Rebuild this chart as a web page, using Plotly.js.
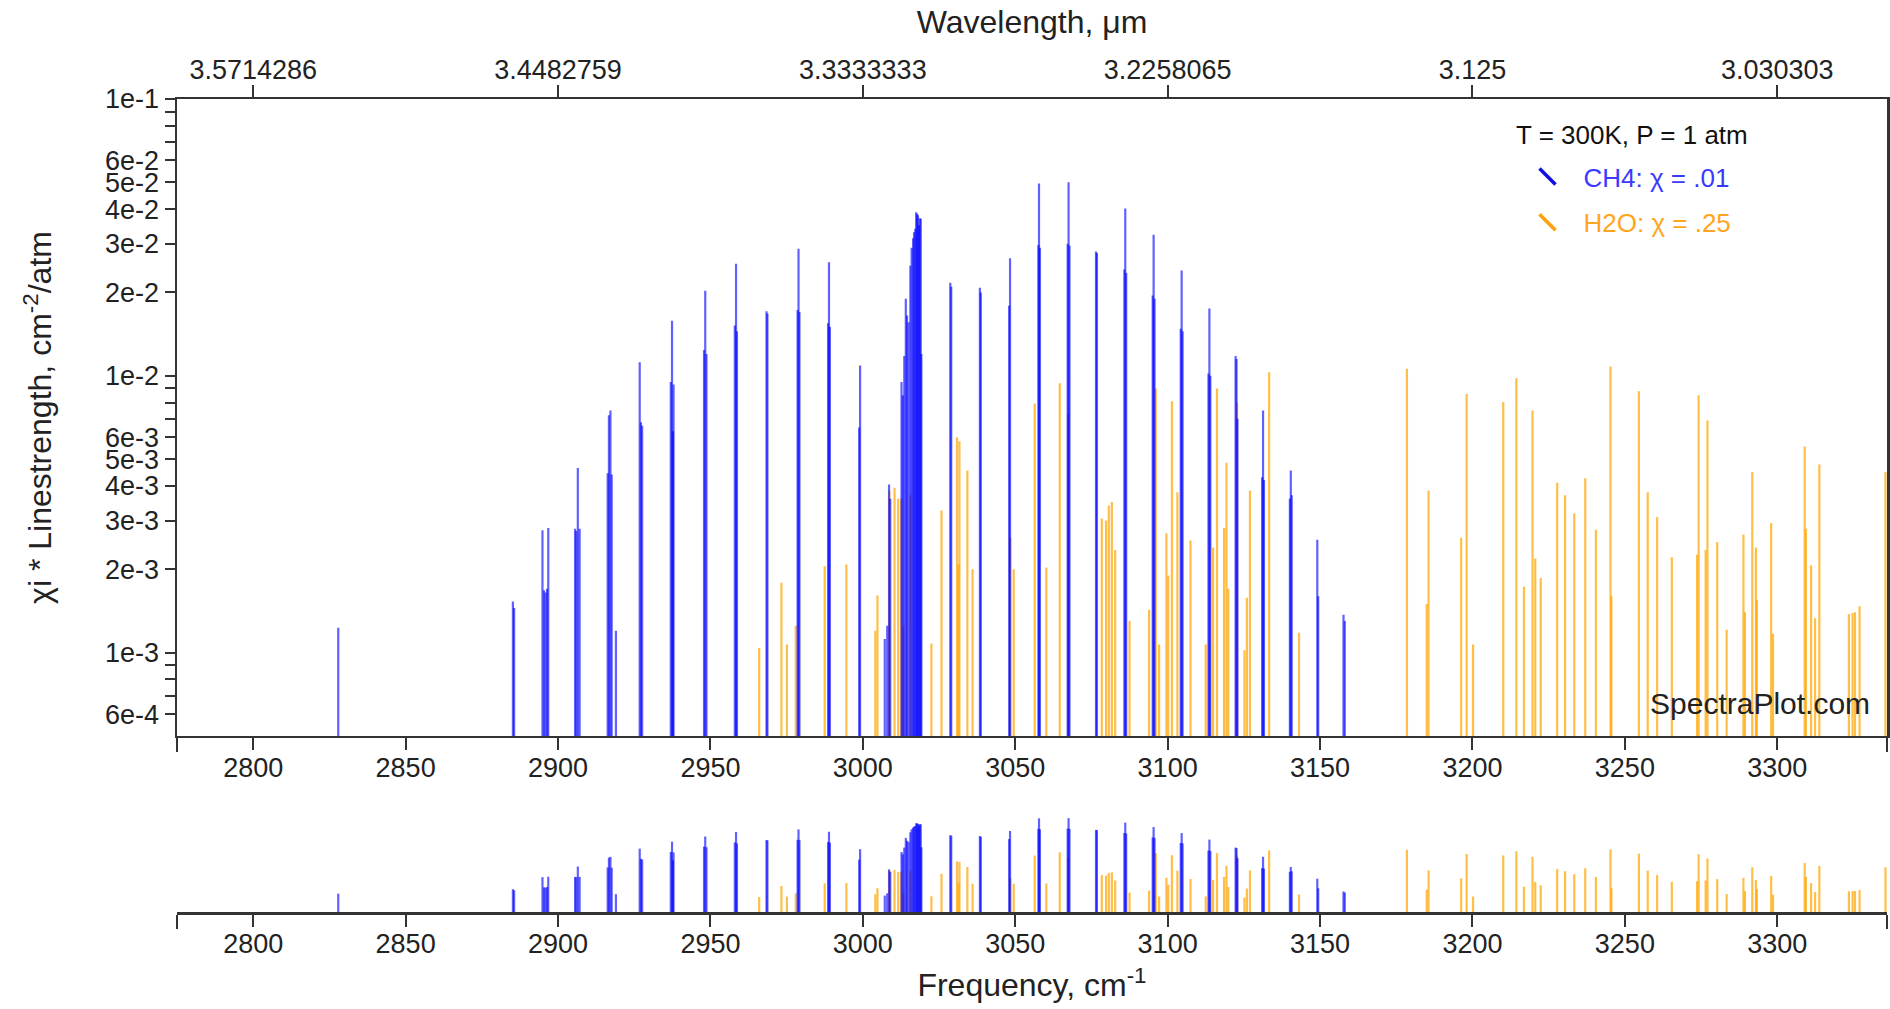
<!DOCTYPE html>
<html>
<head>
<meta charset="utf-8">
<script src="https://cdn.plot.ly/plotly-3.0.1.min.js"></script>
<style>
  html, body { margin: 0; padding: 0; background: #fff; }
  #chart { width: 1890px; height: 1009px; }
</style>
</head>
<body>
<div id="chart"></div>
<script>
// ---- CH4 stick spectrum (frequency cm-1, chi*linestrength cm-2/atm) ----
const ch4Freq = [
  2827.9,
  2885.2, 2885.6,
  2894.9, 2895.4, 2895.9, 2896.4, 2896.8,
  2905.6, 2906.0, 2906.5, 2907.1,
  2916.3, 2916.7, 2917.2, 2917.6, 2919.0,
  2926.8, 2927.2, 2927.6,
  2937.0, 2937.4, 2937.7, 2937.9,
  2947.9, 2948.3, 2948.7,
  2958.0, 2958.4, 2958.7,
  2968.4, 2968.7,
  2978.6, 2978.9, 2979.2,
  2988.6, 2988.9, 2989.2,
  2998.8, 2999.1,
  3007.2, 3008.0, 3008.6, 3009.0,
  3012.7, 3013.1, 3013.6, 3014.1, 3014.5, 3015.0, 3015.6, 3016.0, 3016.5, 3016.8,
  3017.2, 3017.5, 3017.8, 3018.1, 3018.4, 3018.7, 3019.0, 3019.2,
  3028.7, 3029.0,
  3038.4, 3038.7,
  3048.0, 3048.3,
  3057.6, 3057.8, 3058.1,
  3067.2, 3067.5, 3067.8,
  3076.5, 3076.8,
  3085.8, 3086.1, 3086.4,
  3095.1, 3095.4, 3095.7,
  3104.3, 3104.6, 3104.9,
  3113.4, 3113.7, 3114.0,
  3122.3, 3122.6, 3122.9,
  3131.0, 3131.3, 3131.6,
  3140.1, 3140.4, 3140.7,
  3149.1, 3149.4,
  3157.7, 3158.1
];
const ch4Strength = [
  1.23e-3,
  1.53e-3, 1.45e-3,
  2.77e-3, 1.68e-3, 1.65e-3, 1.7e-3, 2.82e-3,
  2.8e-3, 2.75e-3, 4.65e-3, 2.8e-3,
  4.45e-3, 7.2e-3, 7.5e-3, 4.4e-3, 1.2e-3,
  1.12e-2, 6.8e-3, 6.6e-3,
  9.5e-3, 1.58e-2, 6.3e-3, 9.3e-3,
  1.24e-2, 2.03e-2, 1.2e-2,
  1.52e-2, 2.54e-2, 1.45e-2,
  1.71e-2, 1.68e-2,
  1.73e-2, 2.88e-2, 1.7e-2,
  1.55e-2, 2.57e-2, 1.5e-2,
  6.5e-3, 1.09e-2,
  1.12e-3, 1.25e-3, 4.05e-3, 3.6e-3,
  9.5e-3, 8.5e-3, 1.18e-2, 1.9e-2, 1.65e-2, 1.56e-2, 2.5e-2, 2.9e-2, 3.14e-2, 3.3e-2,
  3.4e-2, 3.9e-2, 3.85e-2, 3.8e-2, 3.5e-2, 3.7e-2, 3.7e-2, 1.2e-2,
  2.17e-2, 2.1e-2,
  2.08e-2, 2.0e-2,
  1.79e-2, 2.66e-2,
  2.97e-2, 4.95e-2, 2.9e-2,
  3.0e-2, 5.0e-2, 2.95e-2,
  2.81e-2, 2.78e-2,
  2.42e-2, 4.02e-2, 2.35e-2,
  1.95e-2, 3.23e-2, 1.9e-2,
  1.48e-2, 2.4e-2, 1.45e-2,
  1.02e-2, 1.75e-2, 1.0e-2,
  1.18e-2, 1.15e-2, 7.0e-3,
  4.3e-3, 7.5e-3, 4.2e-3,
  3.6e-3, 4.55e-3, 3.7e-3,
  2.56e-3, 1.6e-3,
  1.37e-3, 1.3e-3
];

// ---- H2O stick spectrum ----
const h2oFreq = [
  2966.0, 2973.3, 2975.1, 2978.0, 2987.5, 2994.6,
  3004.1, 3004.8, 3008.7, 3010.4, 3011.6, 3012.6, 3013.3, 3015.6,
  3022.5, 3025.8, 3030.9, 3031.4, 3031.7, 3034.3, 3036.0,
  3048.4, 3049.5, 3056.4, 3060.2, 3064.6, 3067.4,
  3078.4, 3079.8, 3080.7, 3081.7, 3082.8, 3087.5,
  3093.9, 3096.1, 3097.2, 3099.6, 3100.2, 3101.4, 3103.2, 3107.5,
  3112.5, 3114.9, 3116.2, 3118.5, 3119.3, 3119.9, 3122.8, 3125.2, 3126.0, 3127.0,
  3133.3, 3143.1,
  3178.5, 3185.0, 3185.6, 3196.3, 3198.1, 3200.2,
  3210.1, 3214.4, 3216.9, 3219.7, 3220.6, 3222.4,
  3227.8, 3230.4, 3233.4, 3237.0, 3240.5, 3245.3, 3245.6,
  3254.6, 3257.5, 3260.6, 3265.4,
  3273.7, 3274.2, 3276.5, 3277.1, 3280.3, 3283.4,
  3288.9, 3289.4, 3291.8, 3293.0, 3293.3, 3298.0, 3298.6,
  3309.0, 3309.4, 3311.1, 3312.4, 3313.8,
  3323.5, 3324.7, 3325.5, 3327.0, 3335.5
];
const h2oStrength = [
  1.04e-3, 1.79e-3, 1.07e-3, 1.25e-3, 2.05e-3, 2.08e-3,
  1.2e-3, 1.61e-3, 3.85e-3, 3.94e-3, 3.6e-3, 3.6e-3, 1.25e-3, 3.7e-3,
  1.08e-3, 3.26e-3, 6.0e-3, 2.08e-3, 5.8e-3, 4.55e-3, 2.0e-3,
  2.6e-3, 2.0e-3, 7.95e-3, 2.03e-3, 9.4e-3, 7.3e-3,
  3.05e-3, 3.0e-3, 3.4e-3, 3.5e-3, 2.35e-3, 1.3e-3,
  1.43e-3, 9.0e-3, 1.07e-3, 2.7e-3, 1.9e-3, 8.1e-3, 3.8e-3, 2.54e-3,
  1.07e-3, 2.4e-3, 9.0e-3, 2.82e-3, 4.85e-3, 1.7e-3, 8.0e-3, 1.02e-3, 1.58e-3, 3.85e-3,
  1.03e-2, 1.18e-3,
  1.06e-2, 1.5e-3, 3.85e-3, 2.6e-3, 8.6e-3, 1.07e-3,
  8.04e-3, 9.8e-3, 1.73e-3, 7.5e-3, 2.19e-3, 1.86e-3,
  4.11e-3, 3.7e-3, 3.18e-3, 4.27e-3, 2.78e-3, 1.08e-2, 1.6e-3,
  8.8e-3, 3.8e-3, 3.09e-3, 2.21e-3,
  2.26e-3, 8.5e-3, 2.35e-3, 6.9e-3, 2.51e-3, 1.21e-3,
  2.67e-3, 1.4e-3, 4.49e-3, 2.4e-3, 1.55e-3, 2.94e-3, 1.17e-3,
  5.56e-3, 2.8e-3, 2.07e-3, 1.33e-3, 4.78e-3,
  1.38e-3, 1.39e-3, 1.4e-3, 1.47e-3, 4.49e-3
];

// ---- axis tick labels ----
const freqRange = [2775, 3336];
const yTickVals = [1e-1, 6e-2, 5e-2, 4e-2, 3e-2, 2e-2, 1e-2, 6e-3, 5e-3, 4e-3, 3e-3, 2e-3, 1e-3, 6e-4];
const yTickText = ['1e-1', '6e-2', '5e-2', '4e-2', '3e-2', '2e-2', '1e-2', '6e-3', '5e-3', '4e-3', '3e-3', '2e-3', '1e-3', '6e-4'];
const yMinorVals = [9e-2, 8e-2, 7e-2, 9e-3, 8e-3, 7e-3, 9e-4, 8e-4, 7e-4];
const wlTickFreq = [2800, 2900, 3000, 3100, 3200, 3300];
const wlTickText = ['3.5714286', '3.4482759', '3.3333333', '3.2258065', '3.125', '3.030303'];

const ch4Color = 'rgba(0,0,255,0.62)';
const h2oColor = 'rgba(255,165,0,0.72)';
const floorVal = 1e-5;

function sticks(freq, strength, color, xa, ya) {
  return freq.map((f, i) => ({
    type: 'scatter', mode: 'lines',
    x: [f, f], y: [floorVal, strength[i]],
    line: { color: color, width: 2.2 },
    xaxis: xa, yaxis: ya,
    hoverinfo: 'skip', showlegend: false
  }));
}

const traces = [].concat(
  sticks(h2oFreq, h2oStrength, h2oColor, 'x', 'y'),
  sticks(ch4Freq, ch4Strength, ch4Color, 'x', 'y'),
  sticks(h2oFreq, h2oStrength, h2oColor, 'x2', 'y2'),
  sticks(ch4Freq, ch4Strength, ch4Color, 'x2', 'y2')
);

// legend entries (placed on the top wavelength axis so that axis is drawn)
traces.push({
  type: 'scatter', mode: 'markers', x: [null], y: [null],
  name: '<span style="color:#3a3aff">CH4: χ = .01</span>',
  marker: { symbol: 'line-nw', size: 16, line: { width: 3.5, color: '#1010e0' }, color: '#1010e0' },
  legendgroup: 'ch4', xaxis: 'x3', yaxis: 'y'
});
traces.push({
  type: 'scatter', mode: 'markers', x: [null], y: [null],
  name: '<span style="color:#ffa520">H2O: χ = .25</span>',
  marker: { symbol: 'line-nw', size: 16, line: { width: 3.5, color: '#ffa010' }, color: '#ffa010' },
  legendgroup: 'h2o', xaxis: 'x3', yaxis: 'y'
});

const axisColor = '#333';
const fontFam = '"Liberation Sans", Arial, sans-serif';
const logRange = [Math.log10(5e-4), -1];

const layout = {
  width: 1890, height: 1009,
  margin: { l: 177, r: 3, t: 99, b: 97, pad: 0 },
  paper_bgcolor: '#fff', plot_bgcolor: '#fff',
  font: { family: fontFam, size: 27, color: '#222' },
  showlegend: true,
  legend: {
    x: 0.7804, y: 0.9335, xanchor: 'left', yanchor: 'top',
    bgcolor: 'rgba(0,0,0,0)', borderwidth: 0,
    font: { size: 26, family: fontFam },
    itemwidth: 62, tracegroupgap: 9
  },
  xaxis: {
    domain: [0, 1], anchor: 'y', range: freqRange,
    tick0: 0, dtick: 50, ticks: 'outside', ticklen: 12, tickwidth: 2, tickcolor: axisColor,
    ticklabelstandoff: -6,
    showline: true, linecolor: axisColor, linewidth: 2.5, mirror: false,
    showgrid: false, zeroline: false, automargin: false,
    minor: { tickvals: [2775.05, 3335.95], ticks: 'outside', ticklen: 14, tickwidth: 2, tickcolor: axisColor, showgrid: false }
  },
  xaxis3: {
    overlaying: 'x', side: 'top', anchor: 'y', range: freqRange,
    tickmode: 'array', tickvals: wlTickFreq, ticktext: wlTickText,
    ticks: 'outside', ticklen: 12, tickwidth: 2, tickcolor: axisColor,
    ticklabelstandoff: -5,
    showline: true, linecolor: axisColor, linewidth: 2.5,
    showgrid: false, zeroline: false, automargin: false,
    title: { text: 'Wavelength, μm', font: { size: 32 }, standoff: 12 }
  },
  yaxis: {
    domain: [0.2165, 1], anchor: 'x', type: 'log', range: logRange,
    tickmode: 'array', tickvals: yTickVals, ticktext: yTickText,
    ticks: 'outside', ticklen: 10, tickwidth: 2, tickcolor: axisColor,
    minor: { tickvals: yMinorVals, ticks: 'outside', ticklen: 10, tickwidth: 2, tickcolor: axisColor, showgrid: false },
    showline: true, linecolor: axisColor, linewidth: 2.5, mirror: 'ticks',
    showgrid: false, zeroline: false, automargin: false,
    title: { text: 'χi * Linestrength, cm<sup>-2</sup>/atm', font: { size: 32 }, standoff: 44 }
  },
  xaxis2: {
    domain: [0, 1], anchor: 'y2', range: freqRange,
    tick0: 0, dtick: 50, ticks: 'outside', ticklen: 12, tickwidth: 2, tickcolor: axisColor,
    ticklabelstandoff: -6,
    showline: true, linecolor: axisColor, linewidth: 2.5,
    showgrid: false, zeroline: false, automargin: false,
    minor: { tickvals: [2775.05, 3335.95], ticks: 'outside', ticklen: 14, tickwidth: 2, tickcolor: axisColor, showgrid: false },
    title: { text: 'Frequency, cm<sup>-1</sup>', font: { size: 32 }, standoff: 16 }
  },
  yaxis2: {
    domain: [0, 0.1328], anchor: 'x2', type: 'log', range: logRange,
    visible: false, showgrid: false, zeroline: false
  },
  annotations: [
    {
      xref: 'paper', yref: 'paper', x: 0.7816, y: 0.9557,
      xanchor: 'left', yanchor: 'middle', showarrow: false,
      text: 'T = 300K, P = 1 atm', font: { size: 26, color: '#111', family: fontFam }
    },
    {
      xref: 'paper', yref: 'paper', x: 0.9915, y: 0.2565,
      xanchor: 'right', yanchor: 'middle', showarrow: false,
      text: 'SpectraPlot.com', font: { size: 30, color: '#222', family: fontFam }
    }
  ]
};

Plotly.newPlot('chart', traces, layout, { staticPlot: true, displayModeBar: false });
</script>
</body>
</html>
